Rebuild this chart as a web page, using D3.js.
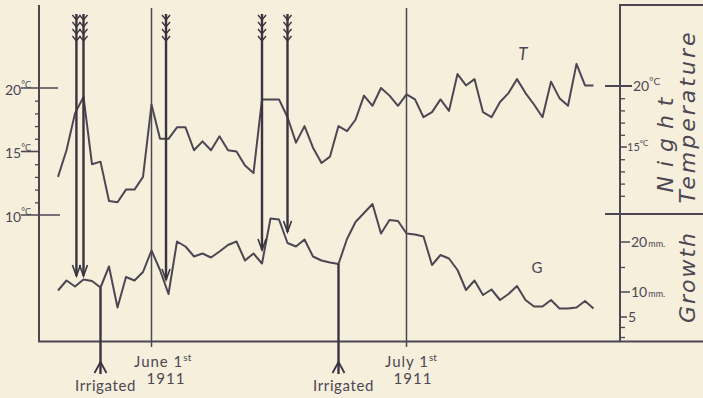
<!DOCTYPE html>
<html>
<head>
<meta charset="utf-8">
<script src="https://cdn.jsdelivr.net/npm/d3@7"></script>
<style>
  body { margin: 0; background: #f5efdc; }
  svg { display: block; }
</style>
</head>
<body>
<script>
const width = 703
const height = 398
const ink = "#4d4753"
const dark = "#3a3440"
const font = "Lato, 'DejaVu Sans', sans-serif"

// one reading per night, starting 21 May 1911
const startDay = "1911-05-21"
const nightTemp = [13.0, 15.1, 18.0, 19.3, 14.0, 14.2, 11.1, 11.0, 12.0, 12.0, 13.0,
  18.7, 16.0, 16.0, 16.9, 16.9, 15.1, 15.8, 15.1, 16.2, 15.1, 15.0, 13.9, 13.3,
  19.1, 19.1, 19.1, 17.7, 15.7, 17.0, 15.3, 14.1, 14.6, 17.0, 16.6, 17.5, 19.4,
  18.6, 20.0, 19.4, 18.6, 19.5, 19.1, 17.7, 18.1, 19.1, 18.2, 21.1, 20.2, 20.7,
  18.1, 17.7, 18.9, 19.6, 20.7, 19.6, 18.7, 17.7, 20.5, 19.2, 18.6, 21.9, 20.2, 20.2]
const growth = [10.3, 12.3, 11.1, 12.5, 12.2, 10.9, 15.1, 6.9, 13.0, 12.3, 14.0,
  18.3, 14.4, 9.6, 20.1, 19.1, 17.1, 17.7, 16.9, 18.1, 19.4, 20.1, 16.3, 17.7,
  15.7, 24.7, 24.5, 19.8, 19.1, 20.5, 17.1, 16.3, 15.9, 15.6, 20.6, 24.0, 25.8,
  27.6, 21.7, 24.4, 24.2, 21.7, 21.5, 21.1, 15.4, 17.4, 16.7, 14.4, 10.4, 12.3,
  9.4, 10.5, 8.4, 9.6, 11.2, 8.4, 7.1, 7.1, 8.4, 6.7, 6.7, 6.9, 8.2, 6.7]

// feathered arrows: when, and the growth value their head points at
const arrowDates = ["1911-05-23T04:00Z", "1911-05-24", "1911-06-02T17:00Z", "1911-06-14", "1911-06-17"]
const arrowTips = [13.2, 13.2, 12.4, 18.4, 22.0]

const irrigatedDates = ["1911-05-26", "1911-06-23"]

const markDates = ["1911-06-01", "1911-07-01"]
const markLabels = ["June 1", "July 1"]
const markYears = ["1911", "1911"]

const leftTempTicks = [10, 15, 20]
const leftTempMinor = [11, 12, 13, 14, 16, 17, 18, 19]
const rightTempTicks = [15, 20]
const rightTempMinor = [11, 12, 13, 14, 16, 17, 18, 19]
const growthTicks = [5, 10, 20]
const growthMinor = [1, 3, 15]

const days = nightTemp.map((d, i) => d3.utcDay.offset(new Date(startDay), i))

const x = d3.scaleUtc()
  .domain([new Date("1911-06-01"), new Date("1911-07-01")])
  .range([151.5, 406.5])

const tempL = d3.scaleLinear().domain([10, 20]).range([215, 88])
const tempR = d3.scaleLinear().domain([15, 20]).range([147, 86])
const gy = d3.scaleLinear().domain([0, 20]).range([342, 242])

const svg = d3.select("body").append("svg")
  .attr("width", width)
  .attr("height", height)
  .style("background", "#f5efdc")
  .style("font-family", font)

// frame
const frame = svg.append("g").attr("stroke", ink).attr("stroke-width", 2).attr("fill", "none")
frame.append("line").attr("x1", 39).attr("x2", 39).attr("y1", 5).attr("y2", 342)
frame.append("line").attr("x1", 38).attr("x2", 703).attr("y1", 341.5).attr("y2", 341.5)
frame.append("line").attr("x1", 620).attr("x2", 620).attr("y1", 5).attr("y2", 342)
frame.append("line").attr("x1", 619).attr("x2", 703).attr("y1", 5).attr("y2", 5)
frame.append("line").attr("x1", 605).attr("x2", 703).attr("y1", 214).attr("y2", 214)

// minor ticks through d3 axes
function minorAxis(axis, tx) {
  const g = svg.append("g").attr("transform", `translate(${tx},0)`).call(axis)
  g.select(".domain").remove()
  g.selectAll("line").attr("stroke", ink).attr("stroke-width", 1.3)
  g.selectAll("text").remove()
}
minorAxis(d3.axisLeft(tempL).tickValues(leftTempMinor).tickSize(4), 39)
minorAxis(d3.axisRight(tempR).tickValues(rightTempMinor).tickSize(5), 620)
minorAxis(d3.axisRight(gy).tickValues(growthMinor).tickSize(5), 620)

// left temperature labels
const leftTickSpan = {20: [21, 58], 15: [21, 39], 10: [21, 60]}
leftTempTicks.forEach(t => {
  const y = tempL(t)
  svg.append("line").attr("x1", leftTickSpan[t][0]).attr("x2", leftTickSpan[t][1])
    .attr("y1", y).attr("y2", y).attr("stroke", ink).attr("stroke-width", 1.6)
  const txt = svg.append("text").attr("x", 5).attr("y", y + 6.5).attr("fill", ink)
    .style("font-size", "14px")
  txt.append("tspan").text(t)
  txt.append("tspan").attr("dy", -7).style("font-size", "9px").text("°C")
})

// right temperature labels
rightTempTicks.forEach(t => {
  const y = tempR(t)
  const big = t === 20
  svg.append("line").attr("x1", big ? 605 : 620).attr("x2", big ? 632 : 627)
    .attr("y1", y).attr("y2", y).attr("stroke", ink).attr("stroke-width", big ? 2 : 1.5)
  const txt = svg.append("text").attr("x", big ? 633 : 627).attr("y", y + (big ? 5 : 4))
    .attr("fill", ink).style("font-size", big ? "14px" : "11px")
  txt.append("tspan").text(t)
  txt.append("tspan").attr("dy", big ? -6 : -5).style("font-size", big ? "10px" : "8px").text("°C")
})

// growth labels
growthTicks.forEach(g => {
  const y = gy(g)
  svg.append("line").attr("x1", 620).attr("x2", g === 5 ? 627 : 630)
    .attr("y1", y).attr("y2", y).attr("stroke", ink).attr("stroke-width", 1.5)
  const txt = svg.append("text").attr("x", g === 5 ? 628 : 631).attr("y", y + 5)
    .attr("fill", ink).style("font-size", "14px")
  txt.append("tspan").text(g)
  if (g !== 5) txt.append("tspan").style("font-size", "9px").attr("dx", 1).text("mm.")
})

// rotated axis titles
const titles = [
  {text: "Night", x: 673, y: 145, len: 95},
  {text: "Temperature", x: 695, y: 118, len: 171},
  {text: "Growth", x: 695, y: 278, len: 90}
]
svg.selectAll("text.title").data(titles).join("text")
  .attr("class", "title")
  .attr("transform", d => `translate(${d.x},${d.y}) rotate(-90)`)
  .attr("text-anchor", "middle")
  .attr("textLength", d => d.len)
  .attr("lengthAdjust", "spacing")
  .attr("fill", ink)
  .style("font-family", "'DejaVu Sans', sans-serif")
  .style("font-size", "22px")
  .style("font-style", "italic")
  .text(d => d.text)

// month marks
const markLabelX = [134, 385]
const yearX = [166, 413]
markDates.forEach((d, i) => {
  const mx = x(new Date(d))
  svg.append("line").attr("x1", mx).attr("x2", mx).attr("y1", 8).attr("y2", 347)
    .attr("stroke", ink).attr("stroke-width", 1.5)
  const t = svg.append("text").attr("x", markLabelX[i]).attr("y", 367).attr("fill", ink)
    .style("font-size", "15px")
  t.append("tspan").style("letter-spacing", "1px").text(markLabels[i])
  t.append("tspan").attr("dy", -6).style("font-size", "10px").text("st")
  svg.append("text").attr("x", yearX[i]).attr("y", 384).attr("text-anchor", "middle")
    .attr("fill", ink).style("font-size", "15px").style("letter-spacing", "1px").text(markYears[i])
})

// data lines
const tempLine = d3.line().x((d, i) => x(days[i])).y(d => tempL(d))
const growthLine = d3.line().x((d, i) => x(days[i])).y(d => gy(d))

svg.append("path").datum(nightTemp).attr("d", tempLine)
  .attr("fill", "none").attr("stroke", ink).attr("stroke-width", 2).attr("stroke-linejoin", "round")
svg.append("path").datum(growth).attr("d", growthLine)
  .attr("fill", "none").attr("stroke", ink).attr("stroke-width", 2).attr("stroke-linejoin", "round")

svg.append("text").attr("x", 523).attr("y", 60).attr("text-anchor", "middle")
  .attr("fill", ink).style("font-size", "17px").style("font-style", "italic").text("T")
svg.append("text").attr("x", 537).attr("y", 273).attr("text-anchor", "middle")
  .attr("fill", ink).style("font-size", "15px").text("G")

// feathered arrows
const arrows = svg.append("g").attr("stroke", dark).attr("fill", "none")
arrowDates.forEach((d, i) => {
  const ax = x(d3.isoParse(d))
  const tip = gy(arrowTips[i])
  arrows.append("line").attr("x1", ax).attr("x2", ax).attr("y1", 14).attr("y2", tip)
    .attr("stroke-width", 2.4)
  ;[20, 27, 34, 41].forEach(cy => {
    arrows.append("path").attr("d", `M${ax - 4},${cy - 5}L${ax},${cy}L${ax + 4},${cy - 5}`)
      .attr("stroke-width", 1.4)
  })
  arrows.append("path").attr("d", `M${ax - 4},${tip - 11}L${ax},${tip}L${ax + 4},${tip - 11}`)
    .attr("stroke-width", 1.6)
})

// irrigation marks
irrigatedDates.forEach(d => {
  const day = new Date(d)
  const ix = x(day)
  const idx = d3.utcDay.count(new Date(startDay), day)
  arrows.append("line").attr("x1", ix).attr("x2", ix).attr("y1", gy(growth[idx])).attr("y2", 374)
    .attr("stroke-width", 2.4)
  arrows.append("path").attr("d", `M${ix - 6},${373}L${ix},${362}L${ix + 6},${373}`)
    .attr("stroke-width", 1.8)
  svg.append("text").attr("x", ix + 5).attr("y", 391).attr("text-anchor", "middle")
    .attr("fill", ink).style("font-size", "15px").style("letter-spacing", "0.6px").text("Irrigated")
})
</script>
</body>
</html>
